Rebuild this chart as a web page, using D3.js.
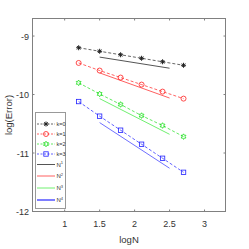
<!DOCTYPE html>
<html>
<head>
<meta charset="utf-8">
<script src="https://cdn.jsdelivr.net/npm/d3@7"></script>
<style>
  body { margin: 0; background: #fff; }
  text { font-family: "Liberation Sans", Arial, sans-serif; }
</style>
</head>
<body>
<script>
const width = 249;
const height = 249;

// data
const logN = [1.2, 1.5, 1.8, 2.1, 2.4, 2.7];
const k0 = [-9.20, -9.26, -9.32, -9.38, -9.44, -9.50];
const k1 = [-9.46, -9.59, -9.71, -9.83, -9.95, -10.07];
const k2 = [-9.80, -9.99, -10.17, -10.36, -10.53, -10.72];
const k3 = [-10.12, -10.37, -10.61, -10.85, -11.09, -11.33];
const refX = [1.5, 2.5];
const refN1 = [-9.36, -9.55];
const refN2 = [-9.63, -10.06];
const refN3 = [-10.07, -10.68];
const refN4 = [-10.48, -11.26];
const xTicks = [1, 1.5, 2, 2.5, 3];
const yTicks = [-9, -10, -11, -12];
const seriesNames = ["k=0", "k=1", "k=2", "k=3"];
const refNames = ["1", "2", "3", "4"];

const colors = ["#222222", "#ff2020", "#20e020", "#2020ff"];
const refColors = ["#555555", "#ff6060", "#70f070", "#7070ff"];
const markers = ["asterisk", "circle", "hexagram", "square"];

const x = d3.scaleLinear().domain([0.54, 3.3]).range([32.5, 225.5]);
const y = d3.scaleLinear().domain([-12, -8.7]).range([211.5, 18.5]);

const svg = d3.select("body")
  .append("svg")
  .attr("width", width)
  .attr("height", height);

const axisColor = "#808080";

// box
svg.append("rect")
  .attr("x", x.range()[0])
  .attr("y", y.range()[1])
  .attr("width", x.range()[1] - x.range()[0])
  .attr("height", y.range()[0] - y.range()[1])
  .attr("fill", "none")
  .attr("stroke", axisColor)
  .attr("stroke-width", 1);

// ticks (inside, MATLAB style)
xTicks.forEach(t => {
  [y.range()[0], y.range()[1]].forEach((yy, i) => {
    svg.append("line")
      .attr("x1", x(t)).attr("x2", x(t))
      .attr("y1", yy).attr("y2", i === 0 ? yy - 2 : yy + 2)
      .attr("stroke", axisColor);
  });
  svg.append("text")
    .attr("x", x(t))
    .attr("y", 227)
    .attr("text-anchor", "middle")
    .attr("font-size", 9)
    .attr("fill", "#333")
    .text(t);
});
yTicks.forEach(t => {
  [x.range()[0], x.range()[1]].forEach((xx, i) => {
    svg.append("line")
      .attr("y1", y(t)).attr("y2", y(t))
      .attr("x1", xx).attr("x2", i === 0 ? xx + 2 : xx - 2)
      .attr("stroke", axisColor);
  });
  svg.append("text")
    .attr("x", 29)
    .attr("y", y(t) + 3.5)
    .attr("text-anchor", "end")
    .attr("font-size", 9)
    .attr("fill", "#333")
    .text(t);
});

// axis labels
svg.append("text")
  .attr("x", 129)
  .attr("y", 243)
  .attr("text-anchor", "middle")
  .attr("font-size", 9.5)
  .attr("fill", "#333")
  .text("logN");
svg.append("text")
  .attr("transform", "translate(12," + 115 + ") rotate(-90)")
  .attr("text-anchor", "middle")
  .attr("font-size", 9.5)
  .attr("fill", "#333")
  .text("log(Error)");

function drawMarker(g, type, cx, cy, color) {
  if (type === "asterisk") {
    const s = 2.5;
    g.append("path")
      .attr("d", `M${cx - s},${cy}H${cx + s}M${cx},${cy - s}V${cy + s}` +
        `M${cx - s * 0.7},${cy - s * 0.7}L${cx + s * 0.7},${cy + s * 0.7}` +
        `M${cx - s * 0.7},${cy + s * 0.7}L${cx + s * 0.7},${cy - s * 0.7}`)
      .attr("stroke", color).attr("stroke-width", 1).attr("fill", "none");
  } else if (type === "circle") {
    g.append("circle")
      .attr("cx", cx).attr("cy", cy).attr("r", 2.5)
      .attr("stroke", color).attr("stroke-width", 0.8).attr("fill", "none");
  } else if (type === "square") {
    g.append("rect")
      .attr("x", cx - 2.2).attr("y", cy - 2.2)
      .attr("width", 4.4).attr("height", 4.4)
      .attr("stroke", color).attr("stroke-width", 0.8).attr("fill", "none");
  } else if (type === "hexagram") {
    const pts = [];
    for (let i = 0; i < 12; i++) {
      const a = Math.PI / 2 + i * Math.PI / 6;
      const r = i % 2 === 0 ? 2.8 : 1.6;
      pts.push([cx + r * Math.cos(a), cy - r * Math.sin(a)]);
    }
    g.append("path")
      .attr("d", "M" + pts.map(p => p.join(",")).join("L") + "Z")
      .attr("stroke", color).attr("stroke-width", 0.8).attr("fill", "none");
  }
}

const line = d3.line().x(d => x(d[0])).y(d => y(d[1]));

// reference lines
[refN1, refN2, refN3, refN4].forEach((vals, i) => {
  svg.append("path")
    .datum(refX.map((v, j) => [v, vals[j]]))
    .attr("d", line)
    .attr("fill", "none")
    .attr("stroke", refColors[i])
    .attr("stroke-width", 1);
});

// series
[k0, k1, k2, k3].forEach((vals, i) => {
  const g = svg.append("g");
  g.append("path")
    .datum(logN.map((v, j) => [v, vals[j]]))
    .attr("d", line)
    .attr("fill", "none")
    .attr("stroke", colors[i])
    .attr("stroke-width", 0.7)
    .attr("stroke-dasharray", "3,2");
  logN.forEach((v, j) => drawMarker(g, markers[i], x(v), y(vals[j]), colors[i]));
});

// legend
const lg = svg.append("g");
lg.append("rect")
  .attr("x", 35.5).attr("y", 112.5)
  .attr("width", 30).attr("height", 96)
  .attr("fill", "#fff")
  .attr("stroke", "#999")
  .attr("stroke-width", 1);
const legendY = [124, 134, 144, 154, 164.5, 176, 188, 200];
seriesNames.forEach((name, i) => {
  const ly = legendY[i];
  lg.append("line")
    .attr("x1", 37).attr("x2", 55).attr("y1", ly).attr("y2", ly)
    .attr("stroke", colors[i]).attr("stroke-width", 0.7)
    .attr("stroke-dasharray", "2,1.5");
  drawMarker(lg, markers[i], 46, ly, colors[i]);
  lg.append("text")
    .attr("x", 56.5).attr("y", ly + 2)
    .attr("font-size", 5.5).attr("fill", "#333")
    .text(name);
});
refNames.forEach((p, i) => {
  const ly = legendY[i + 4];
  lg.append("line")
    .attr("x1", 37).attr("x2", 55).attr("y1", ly).attr("y2", ly)
    .attr("stroke", refColors[i]).attr("stroke-width", i === 3 ? 1.8 : 1);
  const t = lg.append("text")
    .attr("x", 56.5).attr("y", ly + 2)
    .attr("font-size", 6).attr("fill", "#333")
    .text("N");
  t.append("tspan")
    .attr("dy", -2.5).attr("font-size", 4)
    .text(p);
});
</script>
</body>
</html>
